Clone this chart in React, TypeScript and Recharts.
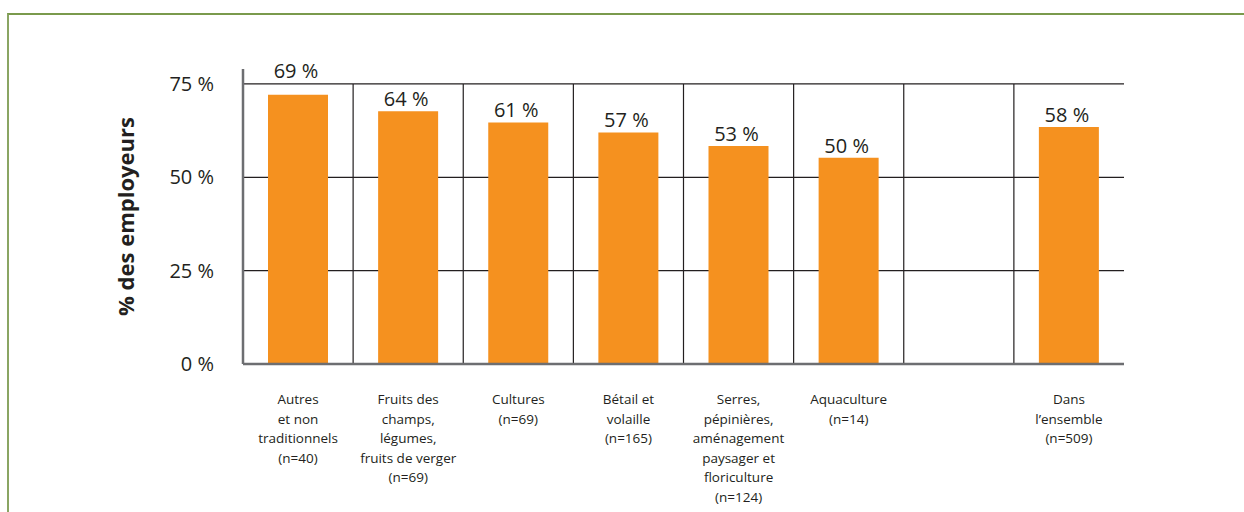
import React from "react";
import { BarChart, Bar, XAxis, YAxis, CartesianGrid, ReferenceLine, LabelList } from "recharts";

const categories = [
  "Autres\net non\ntraditionnels\n(n=40)",
  "Fruits des\nchamps,\nlégumes,\nfruits de verger\n(n=69)",
  "Cultures\n(n=69)",
  "Bétail et\nvolaille\n(n=165)",
  "Serres,\npépinières,\naménagement\npaysager et\nfloriculture\n(n=124)",
  "Aquaculture\n(n=14)",
  "",
  "Dans\nl’ensemble\n(n=509)",
];

// bar heights as drawn in the picture (they sit a bit above the printed values)
const barHeights = [72.1, 67.7, 64.7, 62.0, 58.4, 55.2, null, 63.5];
// values printed above the bars
const printedValues = [69, 64, 61, 57, 53, 50, null, 58];

const yTicks = [0, 25, 50, 75];

const data = categories.map((name, i) => ({
  id: `c${i}`,
  name,
  height: barHeights[i],
  printed: printedValues[i],
}));

const FONT = "'Open Sans', sans-serif";
const INK = "#231f20";
const AXIS_GRAY = "#6d6e71";
const ORANGE = "#f5911f";

function CategoryTick(props: any) {
  const { x, y, payload, index } = props;
  const i = payload.index ?? index;
  const lines = String(categories[i] ?? "").split("\n").filter((l) => l !== "");
  return (
    <text x={x} y={y + 32} textAnchor="middle" fontFamily={FONT} fontSize={13.5} fill={INK}>
      {lines.map((line, k) => (
        <tspan key={k} x={x} dy={k === 0 ? 0 : 19.5}>
          {line}
        </tspan>
      ))}
    </text>
  );
}

function ValueLabel(props: any) {
  const i = parseInt(String(props.value).slice(1), 10);
  const printed = printedValues[i];
  const h = barHeights[i];
  if (printed == null || h == null) return null;
  const vb = props.viewBox ?? props;
  const top = Math.min(vb.y, vb.y + vb.height);
  const bottom = Math.max(vb.y, vb.y + vb.height);
  // move the label above the top gridline when it would cross it
  const perUnit = (bottom - top) / h;
  const topLine = bottom - 75 * perUnit;
  let base = top - 5;
  if (base > topLine - 2 && base - 17 < topLine) base = topLine - 6;
  return (
    <text x={vb.x + vb.width / 2 - 2} y={base} textAnchor="middle" fontFamily={FONT} fontSize={20} fill={INK}>
      {`${printed} %`}
    </text>
  );
}

export default function App() {
  return (
    <div style={{ position: "absolute", left: 0, top: 0, width: 1244, height: 512, background: "#fff" }}>
      <div
        style={{
          position: "absolute",
          left: 7,
          top: 13,
          right: -4,
          bottom: -4,
          borderTop: "2px solid #7a9a4c",
          borderLeft: "2px solid #8aa563",
        }}
      />
      <BarChart
        width={1244}
        height={512}
        data={data}
        margin={{ top: 69, right: 120, bottom: 0, left: 93 }}
        barSize={60}
        style={{ position: "absolute", left: 0, top: 0 }}
      >
        <CartesianGrid
          vertical={false}
          horizontal={true}
          horizontalValues={yTicks}
          stroke={INK}
          strokeWidth={1.2}
        />
        <XAxis
          dataKey="id"
          height={148}
          interval={0}
          tickLine={false}
          axisLine={{ stroke: AXIS_GRAY, strokeWidth: 2.5 }}
          tick={<CategoryTick />}
        />
        <YAxis
          domain={[0, 79]}
          allowDataOverflow
          ticks={yTicks}
          width={150}
          tickLine={false}
          tickSize={0}
          tickMargin={29}
          axisLine={{ stroke: AXIS_GRAY, strokeWidth: 2.5 }}
          tick={{ fontFamily: FONT, fontSize: 20, fill: INK }}
          tickFormatter={(v) => `${v} %`}
          label={{
            value: "% des employeurs",
            angle: -90,
            position: "insideLeft",
            offset: 5,
            dx: 28,
            style: { textAnchor: "middle", fontFamily: FONT, fontSize: 22, fontWeight: 700, fill: INK },
          }}
        />
        {data.slice(1).map((d) => (
          <ReferenceLine
            key={d.id}
            position="start"
            segment={[{ x: d.id, y: 0 }, { x: d.id, y: 75 }]}
            stroke={INK}
            strokeWidth={1.2}
          />
        ))}
        <Bar dataKey="height" fill={ORANGE} isAnimationActive={false}>
          <LabelList dataKey="id" content={<ValueLabel />} />
        </Bar>
      </BarChart>
    </div>
  );
}
